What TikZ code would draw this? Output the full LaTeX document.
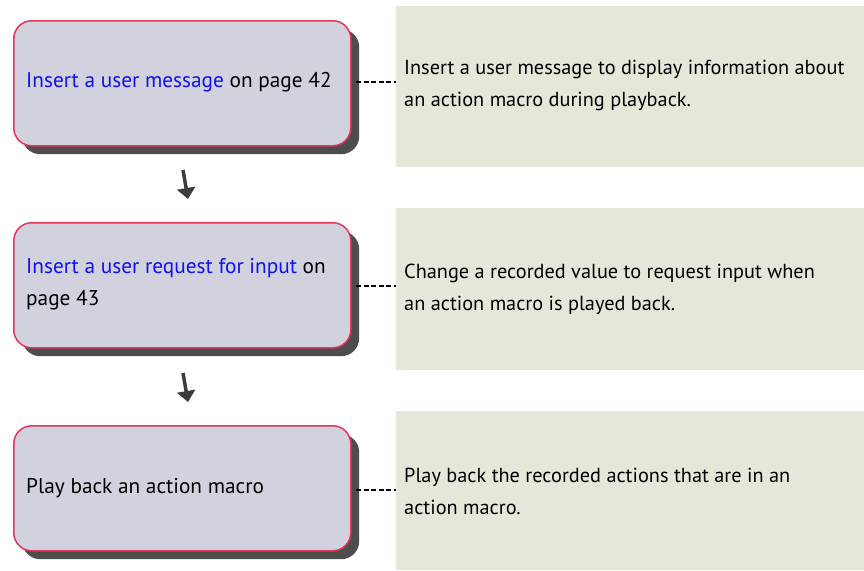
\documentclass[tikz,border=0pt]{standalone}
\usepackage{fontspec}
\setmainfont{PT Sans}
\usetikzlibrary{arrows.meta}
\definecolor{boxfill}{RGB}{210,210,222}
\definecolor{boxline}{RGB}{232,54,90}
\definecolor{shadowc}{RGB}{77,77,77}
\definecolor{notefill}{RGB}{229,232,217}
\definecolor{linkc}{RGB}{16,16,240}
\definecolor{arrowc}{RGB}{60,60,60}
\newcommand{\lnk}[1]{\textcolor{linkc}{#1}}
\tikzset{
  stepbox/.style={draw=boxline, line width=1.5pt, fill=boxfill, rounded corners=18pt,
    minimum width=337pt, minimum height=125pt, anchor=north west},
  shadowbox/.style={fill=shadowc, rounded corners=18pt, minimum width=337pt, minimum height=125pt, anchor=north west},
  notebox/.style={fill=notefill, minimum width=480pt, anchor=north west},
  txt/.style={anchor=west, inner sep=0pt, align=left, font=\fontsize{20.3}{32}\selectfont},
  steptxt/.style={txt, font=\fontsize{21.3}{32}\selectfont},
  dashlink/.style={draw=black, dash pattern=on 5pt off 2.5pt, line width=1.4pt},
  flowarrow/.style={draw=arrowc, line width=3.5pt, -{Triangle[length=11pt,width=18pt]}}
}
\begin{document}
\begin{tikzpicture}[x=1pt,y=-1pt]
\useasboundingbox (0,0) rectangle (864,570);
\begin{scope}
\clip (0,0) rectangle (864,570);
% notes
\node[notebox, minimum height=161pt] (n1) at (396,6) {};
\node[notebox, minimum height=162pt] (n2) at (396,208) {};
\node[notebox, minimum height=159pt] (n3) at (396,411) {};
\end{scope}
\node[txt] (nt1) at (404,85) {Insert a user message to display information about\\an action macro during playback.};
\node[txt] (nt2) at (404,289) {Change a recorded value to request input when\\an action macro is played back.};
\node[txt] (nt3) at (404,491) {Play back the recorded actions that are in an\\action macro.};
% shadows
\node[shadowbox] (s1) at (22,29) {};
\node[shadowbox] (s2) at (22,231) {};
\node[shadowbox] (s3) at (22,434) {};
% steps
\node[stepbox] (b1) at (13,20) {};
\node[stepbox] (b2) at (13,222) {};
\node[stepbox] (b3) at (13,425) {};
\node[steptxt] (t1) at (26,82) {\lnk{Insert a user message} on page 42};
\node[steptxt] (t2) at (26,284) {\lnk{Insert a user request for input} on\\page 43};
\node[steptxt] (t3) at (26,488) {Play back an action macro};
% dashed connectors
\coordinate (d1) at (356,82);
\coordinate (d2) at (356,286);
\coordinate (d3) at (356,490);
\draw[dashlink] (d1) -- (d1 -| n1.west);
\draw[dashlink] (d2) -- (d2 -| n2.west);
\draw[dashlink] (d3) -- (d3 -| n3.west);
% arrows
\coordinate (a1s) at (183,170);
\coordinate (a1e) at (188,199);
\coordinate (a2s) at (183,373);
\coordinate (a2e) at (188,402);
\draw[flowarrow] (a1s) -- (a1e);
\draw[flowarrow] (a2s) -- (a2e);
\end{tikzpicture}
\end{document}
